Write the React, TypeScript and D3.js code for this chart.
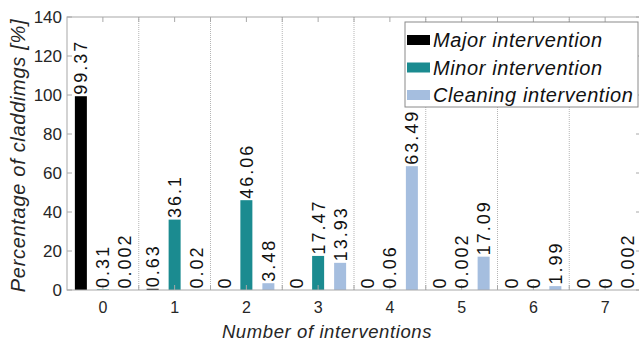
import React from "react";
import * as d3 from "d3";

// Number of interventions (category axis)
const categories = ["0", "1", "2", "3", "4", "5", "6", "7"];
const seriesNames = ["Major intervention", "Minor intervention", "Cleaning intervention"];
const seriesColors = ["#000000", "#1b8b90", "#a5bedf"];

// Percentage of claddings per number of interventions
const majorValues = [99.37, 0.63, 0, 0, 0, 0, 0, 0];
const minorValues = [0.31, 36.1, 46.06, 17.47, 0.06, 0.002, 0, 0];
const cleaningValues = [0.002, 0.02, 3.48, 13.93, 63.49, 17.09, 1.99, 0.002];

const yTicks = [0, 20, 40, 60, 80, 100, 120, 140];

const W = 639;
const H = 344;
const plot = { left: 67, right: 641, top: 17, bottom: 290 };

export default function App() {
  const seriesValues = [majorValues, minorValues, cleaningValues];

  const x = d3
    .scaleBand<string>()
    .domain(categories)
    .range([plot.left, plot.right])
    .paddingInner(0)
    .paddingOuter(0);
  const half = x.bandwidth() / 2;

  const xSub = d3.scalePoint<string>().domain(seriesNames).range([-22, 22]);
  const barW = 12;

  const y = d3.scaleLinear().domain([0, 140]).range([plot.bottom, plot.top]);

  // half-band tick positions (top and bottom), gridlines at band boundaries
  const tickPositions: number[] = [];
  for (let j = 1; j < categories.length * 2; j++) tickPositions.push(plot.left + j * half);
  const gridPositions = categories.slice(1).map((c) => x(c)!);

  const axisColor = "#a8a8a8";
  const textColor = "#262626";
  const font = "'Liberation Sans', Arial, Helvetica, sans-serif";

  const bars: JSX.Element[] = [];
  const labels: JSX.Element[] = [];
  categories.forEach((c, ci) => {
    const cx0 = x(c)! + half;
    seriesNames.forEach((s, si) => {
      const v = seriesValues[si][ci];
      const cx = cx0 + xSub(s)!;
      const yTop = y(v);
      if (v > 0) {
        bars.push(
          <rect
            key={`b-${ci}-${si}`}
            x={cx - barW / 2}
            y={yTop}
            width={barW}
            height={plot.bottom - yTop}
            fill={seriesColors[si]}
          />
        );
      }
      labels.push(
        <text
          key={`l-${ci}-${si}`}
          transform={`translate(${cx},${yTop - 1.5}) rotate(-90)`}
          dy="0.36em"
          fontSize={18}
          letterSpacing={2}
          fill="#111"
          fontFamily={font}
        >
          {String(v)}
        </text>
      );
    });
  });

  const legend = { x: 405, y: 22, w: 233, h: 85 };

  return (
    <svg
      width={W}
      height={H}
      style={{ position: "absolute", left: 0, top: 0, background: "#fff" }}
      fontFamily={font}
    >
      <rect x={0} y={0} width={W} height={H} fill="#fff" />

      {/* dotted separators between groups */}
      {gridPositions.map((gx, i) => (
        <line
          key={`g-${i}`}
          x1={gx}
          x2={gx}
          y1={plot.top}
          y2={plot.bottom}
          stroke="#b5b5b5"
          strokeWidth={1}
          strokeDasharray="1,1"
        />
      ))}

      {bars}

      {/* axes box */}
      <rect
        x={plot.left}
        y={plot.top}
        width={plot.right - plot.left}
        height={plot.bottom - plot.top}
        fill="none"
        stroke={axisColor}
        strokeWidth={1}
      />

      {/* x ticks top & bottom */}
      {tickPositions.map((tx, i) => (
        <g key={`xt-${i}`}>
          <line x1={tx} x2={tx} y1={plot.bottom} y2={plot.bottom - 5} stroke={axisColor} />
          <line x1={tx} x2={tx} y1={plot.top} y2={plot.top + 5} stroke={axisColor} />
        </g>
      ))}

      {/* y ticks and labels */}
      {yTicks.map((t) => (
        <g key={`yt-${t}`}>
          <line x1={plot.left} x2={plot.left + 5} y1={y(t)} y2={y(t)} stroke={axisColor} />
          <line x1={plot.right} x2={plot.right - 5} y1={y(t)} y2={y(t)} stroke={axisColor} />
          <text
            x={plot.left - 5}
            y={y(t)}
            dy="0.36em"
            textAnchor="end"
            fontSize={17}
            fill={textColor}
          >
            {t}
          </text>
        </g>
      ))}

      {labels}

      {/* category labels */}
      {categories.map((c) => (
        <text
          key={`c-${c}`}
          x={x(c)! + half}
          y={313}
          textAnchor="middle"
          fontSize={16}
          fill={textColor}
        >
          {c}
        </text>
      ))}

      {/* axis titles */}
      <text
        x={327}
        y={338}
        textAnchor="middle"
        fontSize={18.5}
        fontStyle="italic"
        letterSpacing={0.6}
        fill={textColor}
      >
        Number of interventions
      </text>
      <text
        transform={`translate(25,${(plot.top + plot.bottom) / 2 + 2}) rotate(-90)`}
        textAnchor="middle"
        fontSize={20}
        fontStyle="italic"
        letterSpacing={0.7}
        fill={textColor}
      >
        Percentage of claddimgs [%]
      </text>

      {/* legend */}
      <rect
        x={legend.x}
        y={legend.y}
        width={legend.w}
        height={legend.h}
        fill="#fff"
        stroke="#8a8a8a"
        strokeWidth={1}
      />
      {seriesNames.map((s, i) => {
        const cy = legend.y + 18 + i * 27.5;
        return (
          <g key={`lg-${s}`}>
            <rect x={legend.x + 2} y={cy - 5} width={23} height={10} fill={seriesColors[i]} />
            <text
              x={legend.x + 28}
              y={cy}
              dy="0.36em"
              fontSize={20}
              fontStyle="italic"
              letterSpacing={0.6}
              fill="#111"
            >
              {s}
            </text>
          </g>
        );
      })}
    </svg>
  );
}
